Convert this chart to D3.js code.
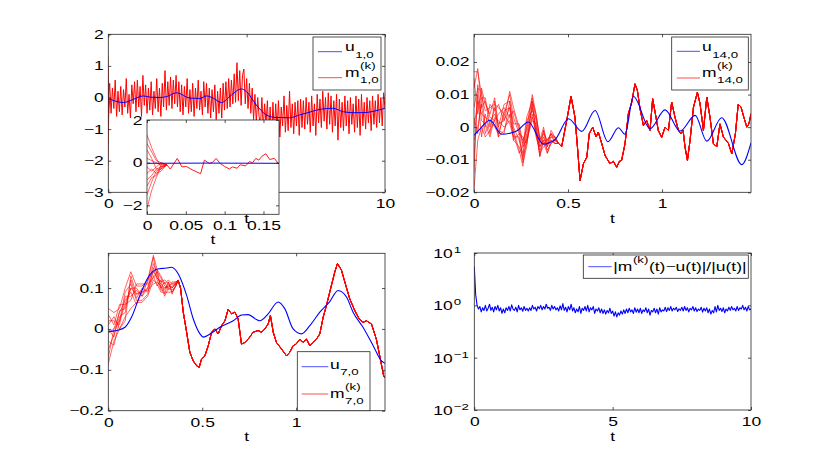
<!DOCTYPE html>
<html>
<head>
<meta charset="utf-8">
<script src="https://cdn.jsdelivr.net/npm/d3@7"></script>
<style>
  body { margin: 0; background: #fff; }
  svg { display: block; }
  text { font-family: "Liberation Sans", Arial, Helvetica, sans-serif; font-size: 12.5px; fill: #000; }
</style>
</head>
<body>
<div id="fig"></div>
<script>
// ---------------- data ----------------

// panel 1 : u_{1,0} and the ensemble m_{1,0}, t in [0,10]
var tU1 = [0, 0.54, 0.9, 1.27, 1.51, 1.87, 2.11, 2.47, 2.95, 3.31, 3.55, 3.79, 4.09, 4.45, 4.81, 4.99,
           5.35, 5.71, 6.02, 6.56, 6.92, 7.22, 7.52, 7.88, 8.12, 8.49, 8.85, 9.21, 9.57, 10];
var u1  = [-0.03, -0.16, -0.06, 0.05, 0.01, 0.0, 0.03, 0.15, -0.02, -0.03, 0.05, -0.02, -0.16, 0.08, 0.27, 0.19,
           -0.24, -0.55, -0.63, -0.64, -0.55, -0.48, -0.40, -0.35, -0.34, -0.45, -0.48, -0.48, -0.44, -0.34];
// m_{1,0} sampled every 0.05
var r1 = [
  -0.1, 0.45, -0.5, 0.3, -0.35, 0.55, -0.6, 0.2, -0.45, 0.35,
  -0.55, 0.25, -0.3, 0.6, -0.5, 0.1, -0.65, 0.4, -0.2, 0.5,
  -0.45, 0.55, -0.3, 0.35, -0.6, 0.7, -0.25, 0.4, -0.5, 0.3,
  -0.4, 0.5, -0.55, 0.2, -0.35, 0.6, -0.45, 0.3, -0.6, 0.45,
  -0.3, 0.85, -0.4, 0.5, -0.25, 0.65, -0.35, 0.55, -0.2, 0.7,
  -0.3, 0.5, -0.45, 0.4, -0.55, 0.35, -0.3, 0.6, -0.5, 0.25,
  -0.45, 0.45, -0.6, 0.3, -0.35, 0.55, -0.4, 0.2, -0.55, 0.5,
  -0.3, 0.45, -0.5, 0.3, -0.65, 0.25, -0.45, 0.4, -0.7, 0.2,
  -0.5, 0.3, -0.65, 0.45, -0.4, 0.5, -0.35, 0.6, -0.3, 0.55,
  -0.2, 0.75, -0.15, 1.1, -0.1, 0.85, -0.25, 0.7, 0.9, -0.2,
  0.6, -0.35, 0.45, -0.5, 0.3, -0.7, 0.1, -0.8, 0.0, -0.6,
  -0.9, 0.0, -1.0, -0.2, -0.85, -0.1, -1.2, -0.3, -1.45, -0.15,
  -1.1, -0.2, -1.0, -0.1, -1.25, -0.3, -0.9, 0.05, -1.1, -0.25,
  -1.05, 0.2, -0.95, -0.2, -1.15, -0.15, -0.9, -0.1, -1.2, -0.05,
  -0.95, -0.1, -1.0, 0.0, -0.85, -0.15, -1.1, 0.05, -0.9, -0.2,
  -1.2, 0.1, -0.8, -0.05, -0.95, 0.2, -0.75, 0.0, -1.0, 0.15,
  -0.85, 0.05, -1.1, -0.1, -0.9, 0.1, -1.35, -0.05, -0.95, -0.15,
  -1.05, 0.05, -0.9, -0.1, -1.15, 0.0, -0.85, -0.2, -1.1, 0.05,
  -0.95, -0.05, -1.2, 0.1, -0.9, -0.15, -1.0, 0.0, -0.8, -0.1,
  -1.05, 0.05, -0.85, -0.1, -0.95, 0.1, -0.8, 0.0, -0.9, 0.15,
  -0.35];
var tR1 = d3.range(r1.length).map(function(i) { return i * 0.05; });

// inset : first 0.17 time units of panel 1
var tMem1 = [0, 0.006, 0.012, 0.018, 0.0255];
var mem1 = [
  [1.3, 0.7, 0.2, -0.2, -0.1],
  [0.9, 0.5, 0.1, 0.0, -0.1],
  [0.6, 0.2, -0.3, -0.3, -0.1],
  [0.2, 0.1, 0.0, -0.1, -0.1],
  [-0.2, -0.4, -0.2, 0.0, -0.1],
  [-0.5, -0.3, -0.5, -0.4, -0.1],
  [-0.8, -0.6, -0.3, -0.2, -0.1],
  [-1.1, -0.7, -0.6, -0.1, -0.1],
  [-1.5, -0.9, -0.4, -0.3, -0.1],
  [-2.15, -1.3, -0.7, -0.2, -0.1]
];
var tIn = [0.0255, 0.03, 0.039, 0.045, 0.051, 0.058, 0.069, 0.074, 0.08, 0.084, 0.089, 0.094, 0.1, 0.106,
           0.11, 0.116, 0.12, 0.127, 0.132, 0.136, 0.14, 0.144, 0.148, 0.153, 0.158, 0.164, 0.169, 0.17];
var rIn = [-0.1, -0.3, 0.2, -0.2, -0.18, -0.33, -0.52, 0.12, -0.03, 0.0, 0.2, -0.03, -0.18, -0.3,
           -0.2, -0.26, -0.1, -0.15, 0.05, 0.0, 0.2, 0.12, 0.3, 0.42, 0.15, 0.2, -0.03, -0.05];
var tUIn = [0, 0.08, 0.17];
var uIn  = [-0.03, -0.02, -0.03];

// panel 2 : u_{14,0} and m_{14,0}
var tU14 = [0, 0.032, 0.085, 0.147, 0.227, 0.289, 0.369, 0.431, 0.503, 0.573, 0.644, 0.712, 0.768, 0.803,
            0.848, 0.936, 1.016, 1.096, 1.176, 1.238, 1.317, 1.424, 1.473];
var u14  = [-0.0025, -0.0005, 0.0021, -0.0022, -0.0012, 0.0016, -0.0052, -0.0038, 0.0026, -0.0013, 0.0051,
            -0.0045, -0.0002, -0.0022, 0.0094, -0.0005, 0.0053, -0.0012, 0.0036, -0.0043, 0.0029, -0.0115, -0.0048];
var tR14 = [0, 0.02, 0.04, 0.06, 0.085, 0.11, 0.13, 0.16, 0.19, 0.21, 0.24, 0.26, 0.28, 0.31, 0.33, 0.35,
            0.37, 0.39, 0.41, 0.43, 0.45,
            0.466, 0.493, 0.516, 0.537, 0.55, 0.564, 0.582, 0.6, 0.613, 0.631, 0.649, 0.661, 0.679, 0.697,
            0.723, 0.741, 0.759, 0.773, 0.785, 0.803, 0.821, 0.839, 0.856, 0.869, 0.883, 0.901, 0.918, 0.936,
            0.95, 0.963, 0.98, 0.998, 1.016, 1.034, 1.051, 1.069, 1.087, 1.1, 1.112, 1.122, 1.135, 1.149,
            1.167, 1.188, 1.202, 1.22, 1.238, 1.255, 1.273, 1.291, 1.308, 1.326, 1.353, 1.371, 1.39, 1.405,
            1.42, 1.435, 1.451, 1.462, 1.473];
var r14  = [0.0, 0.008, 0.004, 0.003, 0.002, 0.004, 0.001, 0.002, 0.006, 0.0, -0.004, -0.008, -0.002, 0.006,
            0.0, -0.006, -0.003, -0.006, -0.003, -0.004, -0.005,
            -0.006, 0.002, 0.0095, 0.003, -0.006, -0.0164, -0.0112, -0.0092, -0.002, 0.0, -0.003, -0.0015,
            -0.005, -0.0087, -0.0112, -0.0105, -0.0123, -0.0105, -0.0102, -0.0051, 0.0041, 0.0077, 0.0133,
            0.0112, 0.0056, 0.0005, 0.002, -0.001, 0.0087, 0.0046, -0.001, -0.0031, 0.0, -0.001, 0.0077,
            0.003, -0.001, -0.002, -0.001, -0.0061, -0.0102, -0.004, 0.0061, 0.0107, 0.0072, -0.001, 0.0092,
            0.003, -0.0051, -0.006, 0.001, -0.003, -0.005, -0.0082, -0.002, 0.007, 0.0062, 0.003, 0.0,
            0.001, 0.0041];
// deviation of the other ensemble members from r14 before they merge
var dev14 = [
  [0.017, 0.009, 0.006, 0.002, 0.004, 0.003, 0.005, 0.002, 0.004, 0.003, 0.002, 0.004, 0.001, 0.003, 0.002, 0.001, 0.002, 0.001, 0.001, 0.0005, 0],
  [-0.019, -0.012, -0.004, -0.006, -0.003, -0.002, -0.004, -0.003, -0.002, -0.004, -0.002, -0.001, -0.003, -0.002, -0.003, -0.001, -0.002, -0.002, -0.001, -0.001, 0],
  [0.012, 0.01, 0.002, 0.005, 0.001, -0.002, 0.003, 0.004, -0.003, 0.005, 0.003, -0.002, 0.004, -0.001, 0.003, 0.003, -0.002, 0.002, 0.001, 0.001, 0],
  [-0.010, 0.002, -0.007, 0.001, -0.004, 0.004, -0.002, -0.004, 0.002, -0.002, -0.004, 0.002, -0.002, -0.004, 0.001, -0.003, 0.002, -0.002, -0.002, 0.0, 0],
  [0.006, 0.004, 0.007, -0.003, 0.005, 0.001, 0.006, 0.0, 0.005, 0.006, 0.004, 0.002, 0.005, 0.002, 0.004, 0.002, 0.003, 0.0, 0.002, 0.001, 0],
  [-0.004, -0.008, 0.003, -0.005, 0.0, -0.004, -0.003, 0.002, -0.005, -0.003, 0.001, -0.003, -0.004, 0.001, -0.002, -0.002, -0.003, 0.001, -0.001, -0.001, 0],
  [0.015, -0.004, 0.008, 0.004, 0.002, 0.005, -0.001, 0.005, 0.002, 0.001, 0.005, 0.003, 0.002, 0.004, 0.004, 0.002, 0.001, 0.002, 0.0, 0.001, 0],
  [-0.014, 0.005, -0.002, -0.002, -0.005, -0.001, 0.001, -0.002, -0.004, -0.001, -0.003, -0.004, -0.001, -0.003, -0.001, -0.003, -0.001, -0.001, -0.002, 0.0, 0],
  [0.003, -0.01, 0.005, 0.006, -0.002, 0.002, -0.004, 0.003, 0.0, -0.004, 0.002, 0.005, -0.003, 0.002, -0.002, 0.0, -0.001, 0.002, 0.001, -0.001, 0]
];

// panel 3 : u_{7,0} and m_{7,0}
var tU7 = [0, 0.044, 0.089, 0.124, 0.168, 0.213, 0.257, 0.31, 0.337, 0.372, 0.417, 0.452, 0.488, 0.505, 0.55,
           0.594, 0.665, 0.709, 0.745, 0.789, 0.807, 0.851, 0.904, 0.94, 0.984, 1.028, 1.073, 1.126, 1.179,
           1.223, 1.268, 1.303, 1.356, 1.41, 1.454, 1.473];
var u7  = [-0.0066, -0.004, 0.004, 0.029, 0.082, 0.127, 0.146, 0.149, 0.151, 0.135, 0.082, 0.025, -0.012, -0.02,
           -0.01, 0.004, 0.02, 0.034, 0.035, 0.023, 0.02, 0.037, 0.066, 0.049, 0.0, -0.012, 0.008, 0.041, 0.067,
           0.094, 0.078, 0.041, 0.004, -0.041, -0.078, -0.084];
var tR7 = [0, 0.03, 0.06, 0.09, 0.12, 0.15, 0.18, 0.21, 0.24, 0.26, 0.28, 0.30, 0.32, 0.34, 0.36, 0.372,
           0.385, 0.399, 0.417, 0.434, 0.452, 0.47, 0.484, 0.496, 0.514, 0.532, 0.55, 0.567, 0.585, 0.603,
           0.621, 0.638, 0.656, 0.674, 0.691, 0.709, 0.727, 0.745, 0.771, 0.798, 0.816, 0.833, 0.851, 0.863,
           0.878, 0.895, 0.922, 0.949, 0.966, 0.984, 1.0, 1.02, 1.037, 1.055, 1.073, 1.09, 1.108, 1.126,
           1.144, 1.161, 1.188, 1.206, 1.22, 1.241, 1.259, 1.285, 1.312, 1.335, 1.356, 1.374, 1.401, 1.427,
           1.445, 1.466, 1.473];
var r7  = [-0.01, 0.0, 0.02, 0.06, 0.10, 0.085, 0.09, 0.10, 0.14, 0.125, 0.11, 0.10, 0.105, 0.10, 0.11, 0.119,
           0.099, 0.041, -0.008, -0.057, -0.078, -0.09, -0.094, -0.074, -0.066, -0.041, -0.008, 0.0, -0.012,
           0.008, 0.02, 0.048, 0.037, 0.041, 0.025, -0.037, -0.033, -0.025, -0.008, -0.004, -0.008, 0.0,
           0.012, 0.033, -0.008, -0.033, -0.049, -0.066, -0.057, -0.041, -0.037, -0.025, -0.033, -0.025,
           -0.041, -0.033, -0.025, -0.012, 0.029, 0.057, 0.107, 0.14, 0.16, 0.144, 0.115, 0.074, 0.045,
           0.025, 0.016, 0.02, 0.012, -0.025, -0.066, -0.115, -0.12];
var dev7 = [
  [0.06, 0.04, 0.03, 0.04, 0.04, 0.02, 0.015, 0.02, 0.04, 0.02, 0.02, 0.01, 0.015, 0.01, 0.005, 0],
  [-0.075, -0.03, -0.02, -0.03, -0.05, -0.02, -0.025, -0.02, -0.02, -0.015, -0.02, -0.01, -0.015, -0.01, -0.005, 0],
  [0.03, 0.02, -0.01, 0.02, -0.02, 0.01, -0.01, 0.0, 0.02, 0.01, -0.01, 0.015, -0.01, 0.005, 0.0, 0],
  [-0.04, -0.015, 0.01, -0.02, 0.02, -0.01, 0.01, -0.01, -0.01, -0.02, 0.01, -0.015, 0.01, -0.01, -0.005, 0],
  [0.045, 0.01, 0.04, 0.0, -0.03, 0.025, 0.02, 0.01, -0.015, 0.015, 0.015, 0.005, -0.005, 0.015, 0.005, 0],
  [-0.02, -0.04, 0.0, 0.03, 0.01, -0.015, -0.02, -0.015, 0.01, -0.005, -0.015, -0.005, 0.01, -0.015, 0.0, 0],
  [0.02, 0.03, -0.02, -0.04, 0.03, 0.0, 0.005, 0.015, 0.035, 0.0, 0.005, 0.02, 0.005, 0.0, 0.005, 0],
  [-0.06, 0.0, 0.02, 0.01, -0.01, -0.025, 0.0, -0.005, -0.03, -0.01, -0.005, -0.02, -0.005, -0.005, -0.005, 0],
  [0.01, -0.02, 0.025, -0.01, 0.0, 0.015, -0.01, 0.02, 0.0, 0.02, -0.01, 0.0, 0.0, 0.01, 0.0, 0]
];

// panel 4 : relative error |m(k)(t)-u(t)|/|u(t)|, sampled every 0.05
var err = [
  5.5, 1.6, 1.0, 0.85, 0.95, 0.75, 0.9, 0.8, 1.0, 0.78,
  0.88, 1.05, 0.8, 0.92, 0.75, 0.95, 0.82, 1.0, 0.78, 0.9,
  0.7, 0.85, 0.72, 0.9, 0.8, 0.95, 0.78, 1.02, 0.85, 0.8,
  0.92, 0.75, 1.0, 0.82, 0.9, 0.77, 0.95, 0.8, 0.88, 0.78,
  0.9, 0.8, 1.0, 0.85, 0.92, 0.78, 0.95, 0.86, 1.0, 0.82,
  0.95, 0.85, 1.05, 0.88, 0.92, 0.8, 1.0, 0.85, 0.95, 0.82,
  0.9, 0.78, 0.98, 0.82, 1.08, 0.8, 0.92, 0.75, 0.95, 0.82,
  1.05, 0.78, 0.9, 0.72, 0.85, 0.75, 0.95, 0.7, 0.88, 0.8,
  0.95, 0.78, 1.0, 0.75, 0.9, 0.82, 0.95, 0.7, 0.85, 0.78,
  0.9, 0.72, 0.85, 0.7, 0.82, 0.68, 0.8, 0.72, 0.88, 0.7,
  0.78, 0.62, 0.75, 0.6, 0.72, 0.65, 0.78, 0.68, 0.82, 0.7,
  0.85, 0.72, 0.88, 0.75, 0.82, 0.7, 0.9, 0.74, 0.85, 0.72,
  0.88, 0.7, 0.82, 0.76, 0.9, 0.72, 0.85, 0.65, 0.8, 0.75,
  0.88, 0.72, 0.85, 0.68, 0.9, 0.75, 0.82, 0.78, 0.92, 0.76,
  0.9, 0.8, 0.95, 0.78, 0.88, 0.82, 0.92, 0.76, 0.86, 0.8,
  0.92, 0.78, 0.95, 0.8, 0.9, 0.75, 0.88, 0.82, 0.95, 0.78,
  0.9, 0.76, 0.85, 0.8, 0.92, 0.74, 0.88, 0.78, 0.9, 0.72,
  0.85, 0.68, 0.8, 0.72, 0.95, 0.75, 1.0, 0.8, 0.88, 0.76,
  0.9, 0.72, 0.85, 0.78, 0.92, 0.8, 0.95, 0.82, 0.88, 0.78,
  0.95, 0.8, 0.9, 0.85, 1.0, 0.82, 0.92, 0.78, 0.95, 0.82,
  0.85];
var tErr = d3.range(err.length).map(function(i) { return i * 0.05; });

// tick labels
var xt1 = [0, 5, 10], yt1 = [-3, -2, -1, 0, 1, 2];
var xtIn = [0, 0.05, 0.1, 0.15], ytIn = [-2, 0, 2];
var xt14 = [0, 0.5, 1], yt14 = [-0.02, -0.01, 0, 0.01, 0.02];
var xt7 = [0, 0.5, 1], yt7 = [-0.2, -0.1, 0, 0.1];
var xtE = [0, 5, 10], ytE = [0.01, 0.1, 1, 10], ytEexp = ["\u22122", "\u22121", "0", "1"];

// ---------------- drawing ----------------
var RED = "#ff0000", BLUE = "#0000ff", AXIS = "#262626";
var SX = 1.4;     // the text of the figure is stretched horizontally
var clipN = 0;

var svg = d3.select("#fig").append("svg").attr("width", 830).attr("height", 463);

var fmt = function(d) { return d3.format("")(d); };

function label(g, x, y, s, anchor, size) {
  return g.append("text")
    .attr("transform", "translate(" + x + "," + y + ") scale(" + SX + ",1)")
    .attr("text-anchor", anchor || "start")
    .style("font-size", (size || 12.5) + "px")
    .text(s);
}

// move x/y of tick labels into a transform so they can be stretched
function stretch(sel) {
  sel.each(function() {
    var t = d3.select(this);
    var x = +t.attr("x") || 0, y = +t.attr("y") || 0;
    t.attr("x", null).attr("y", null)
     .attr("transform", "translate(" + x + "," + y + ") scale(" + SX + ",1)");
  });
}

function makeAxes(o) {
  var w = o.right - o.left, h = o.bottom - o.top;
  var g = svg.append("g").attr("transform", "translate(" + o.left + "," + o.top + ")");
  var x = d3.scaleLinear().domain(o.xd).range([0, w]);
  var y = (o.log ? d3.scaleLog() : d3.scaleLinear()).domain(o.yd).range([h, 0]);
  g.append("rect").attr("width", w).attr("height", h).attr("fill", "#fff");
  var id = "clip" + (clipN++);
  g.append("clipPath").attr("id", id).append("rect").attr("width", w).attr("height", h);
  var plot = g.append("g").attr("clip-path", "url(#" + id + ")");
  var frame = g.append("g");
  var a = {g: g, plot: plot, frame: frame, x: x, y: y, w: w, h: h, log: o.log};

  // ticks on all four sides, pointing inwards
  var none = function() { return ""; };
  frame.append("g").attr("transform", "translate(0," + h + ")")
    .call(d3.axisBottom(x).tickValues(o.xt).tickSize(-3).tickPadding(7).tickFormat(fmt));
  frame.append("g").call(d3.axisTop(x).tickValues(o.xt).tickSize(-3).tickFormat(none));
  frame.append("g")
    .call(d3.axisLeft(y).tickValues(o.yt).tickSize(-3).tickPadding(4.5).tickFormat(o.log ? none : fmt));
  frame.append("g").attr("transform", "translate(" + w + ",0)")
    .call(d3.axisRight(y).tickValues(o.yt).tickSize(-3).tickFormat(none));
  frame.selectAll(".domain").remove();
  frame.selectAll("g").attr("font-family", null).attr("font-size", null);
  frame.selectAll(".tick line").attr("stroke", AXIS).attr("stroke-width", 0.8);
  stretch(frame.selectAll(".tick text").attr("fill", "#000"));

  if (o.log) {
    o.yt.forEach(function(v, i) {
      label(frame, -21.5, y(v) + 5, "10", "end", 12.5);
      label(frame, -20.5, y(v), o.exp[i], "start", 9.5);
    });
  }
  frame.append("rect").attr("width", w).attr("height", h)
    .attr("fill", "none").attr("stroke", AXIS).attr("stroke-width", 0.8);
  if (o.xlabel) label(frame, w / 2, h + o.xlabel, "t", "middle");
  return a;
}

function trace(a, xs, ys, color, width, curve) {
  var line = d3.line()
    .x(function(d) { return a.x(d[0]); })
    .y(function(d) { return a.y(d[1]); })
    .curve(curve || d3.curveLinear);
  a.plot.append("path").datum(d3.zip(xs, ys))
    .attr("d", line)
    .attr("fill", "none")
    .attr("stroke", color)
    .attr("stroke-width", width)
    .attr("stroke-linejoin", "round");
}

// ensemble members = leader trace plus its early deviations
function members(base, devs) {
  return [base].concat(devs.map(function(off) {
    return base.map(function(v, i) { return i < off.length ? v + off[i] : v; });
  }));
}

// legend entry with TeX-like sub/superscripts
function scripted(g, x, y, main, sup, sub, rest) {
  var t = label(g, x, y, main);
  var w = t.node().getComputedTextLength() * SX, w2 = 0;
  if (sup) {
    var s = label(g, x + w + 0.5, y - 8, sup, "start", 9.5);
    w2 = s.node().getComputedTextLength() * SX;
  }
  if (sub) {
    var b = label(g, x + w + 0.5, y + (sup ? 5.5 : 6.5), sub, "start", 9.5);
    w2 = Math.max(w2, b.node().getComputedTextLength() * SX);
  }
  if (rest) label(g, x + w + w2 + 1, y, rest);
}

function legend(box, items) {
  var g = svg.append("g");
  g.append("rect").attr("x", box[0]).attr("y", box[1])
    .attr("width", box[2] - box[0]).attr("height", box[3] - box[1])
    .attr("fill", "#fff").attr("stroke", AXIS).attr("stroke-width", 0.8);
  items.forEach(function(it) {
    g.append("line").attr("x1", it.lx[0]).attr("x2", it.lx[1])
      .attr("y1", it.ly).attr("y2", it.ly)
      .attr("stroke", it.color).attr("stroke-width", 0.7);
    scripted(g, it.tx, it.ly + it.dy, it.main, it.sup, it.sub, it.rest);
  });
}

// ---- panel 1 ----
var a1 = makeAxes({left: 108.3, right: 385, top: 34.3, bottom: 192.3, xd: [0, 10], yd: [-3, 2],
                   xt: xt1, yt: yt1, xlabel: 30.5});
mem1.forEach(function(m) { trace(a1, tMem1, m, RED, 0.6); });
trace(a1, tR1, r1, RED, 1);
trace(a1, tU1, u1, BLUE, 1, d3.curveMonotoneX);

legend([313, 37, 381, 90], [
  {color: BLUE, lx: [318, 342], ly: 51.7, tx: 345, dy: -0.5, main: "u", sub: "1,0"},
  {color: RED,  lx: [318, 342], ly: 77.7, tx: 345, dy: -0.7, main: "m", sup: "(k)", sub: "1,0"}
]);

// ---- inset ----
var aIn = makeAxes({left: 147, right: 279, top: 120, bottom: 214.3, xd: [0, 0.17], yd: [-2.42, 2],
                    xt: xtIn, yt: ytIn, xlabel: 30});
mem1.forEach(function(m) { trace(aIn, tMem1, m, RED, 0.6); });
trace(aIn, tIn, rIn, RED, 0.9);
trace(aIn, tUIn, uIn, BLUE, 1);

// ---- panel 2 ----
var a2 = makeAxes({left: 474, right: 751, top: 34.3, bottom: 192.3, xd: [0, 1.473], yd: [-0.02, 0.0285],
                   xt: xt14, yt: yt14, xlabel: 30.5});
members(r14, dev14).forEach(function(m) { trace(a2, tR14, m, RED, 0.6); });
trace(a2, tU14, u14, BLUE, 1.1, d3.curveMonotoneX);

legend([671.7, 37, 748.3, 90], [
  {color: BLUE, lx: [676.7, 700], ly: 51.3, tx: 702, dy: 0, main: "u", sub: "14,0"},
  {color: RED,  lx: [676.7, 700], ly: 78, tx: 702, dy: -0.7, main: "m", sup: "(k)", sub: "14,0"}
]);

// ---- panel 3 ----
var a3 = makeAxes({left: 108.3, right: 385, top: 253.3, bottom: 410.7, xd: [0, 1.473], yd: [-0.2, 0.185],
                   xt: xt7, yt: yt7, xlabel: 30.5});
members(r7, dev7).forEach(function(m) { trace(a3, tR7, m, RED, 0.6); });
trace(a3, tU7, u7, BLUE, 1.1, d3.curveMonotoneX);

legend([297.3, 351.7, 370, 410.7], [
  {color: BLUE, lx: [301.7, 328.3], ly: 366.7, tx: 330, dy: 2, main: "u", sub: "7,0"},
  {color: RED,  lx: [301.7, 328.3], ly: 394, tx: 330, dy: 4, main: "m", sup: "(k)", sub: "7,0"}
]);

// ---- panel 4 ----
var a4 = makeAxes({left: 474.3, right: 751, top: 253, bottom: 410, xd: [0, 10], yd: [0.01, 10], log: true,
                   xt: xtE, yt: ytE, exp: ytEexp, xlabel: 30.5});
trace(a4, tErr, err, BLUE, 1.1);

legend([583.3, 255, 748.3, 278.3], [
  {color: BLUE, lx: [588.3, 611.7], ly: 266.7, tx: 613.3, dy: 4, main: "|m", sup: "(k)", rest: "(t)\u2212u(t)|/|u(t)|"}
]);
</script>
</body>
</html>
